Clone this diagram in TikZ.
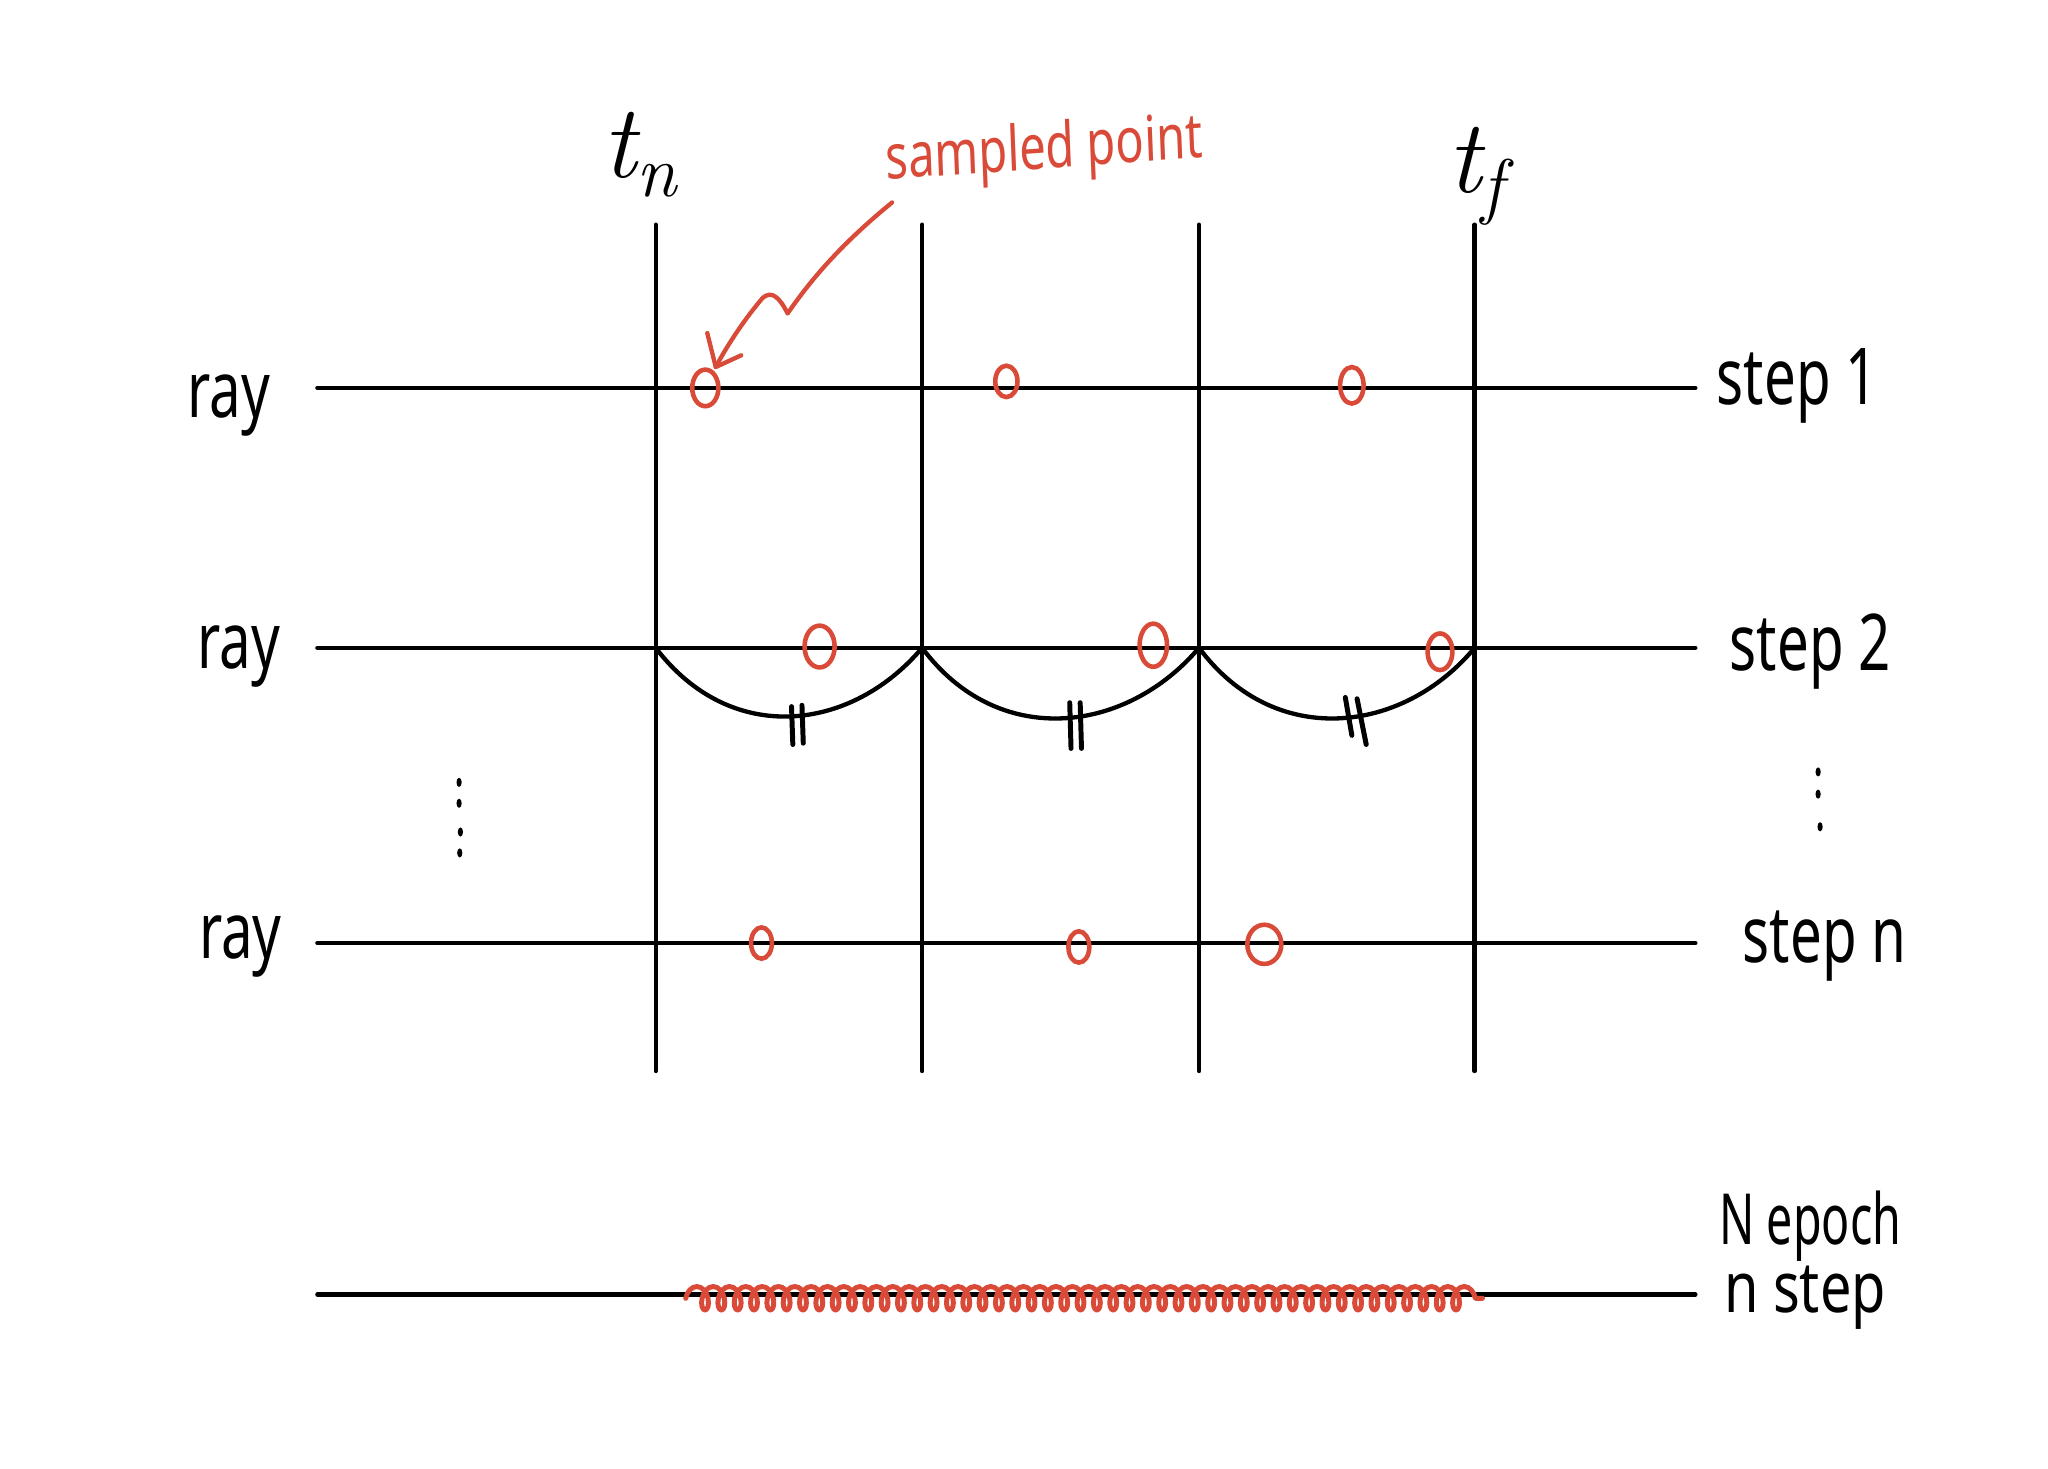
\documentclass[tikz,border=0pt]{standalone}
\usepackage{fontspec}
\setmainfont{Noto Sans}
\newfontfamily\lmr{Latin Modern Roman}
\usetikzlibrary{shapes.geometric,decorations.pathmorphing}
\definecolor{pen}{RGB}{217,74,56}
\newcommand{\tsub}[2]{{\lmr\itshape #1\raisebox{-0.18em}{\fontsize{56}{64}\selectfont #2}}}
\begin{document}
\begin{tikzpicture}[x=1pt,y=-1pt,
  ln/.style={line width=3.3pt, line cap=round},
  tick/.style={line width=3.8pt, line cap=round},
  hand/.style={font=\fontsize{60}{72}\selectfont, xscale=0.72, inner sep=0pt, anchor=base},
  small/.style={font=\fontsize{54}{64}\selectfont, xscale=0.66, inner sep=0pt, anchor=base},
  redtxt/.style={font=\fontsize{48}{58}\selectfont, xscale=0.75, inner sep=0pt, anchor=base, text=pen, rotate=3},
  tlab/.style={font=\fontsize{80}{96}\selectfont, inner sep=0pt, anchor=base},
  pt/.style={draw=pen, line width=3.5pt, ellipse, inner sep=0pt},
  dot/.style={fill=black, ellipse, inner sep=0pt, minimum width=4pt, minimum height=7pt},
  redline/.style={draw=pen, line width=3.3pt, line cap=round, line join=round}
]
\fill[white] (0,0) rectangle (1568,1124);
\useasboundingbox (0,0) rectangle (1568,1124);

% coordinates
\foreach \n/\y in {r1/297, r2/496, r3/722, r4/991}{
  \coordinate (\n L) at (243,\y);
  \coordinate (\n R) at (1298,\y);
}
\foreach \n/\x in {v1/502, v2/706, v3/918, v4/1129}{
  \coordinate (\n T) at (\x,172);
  \coordinate (\n B) at (\x,820);
}

% grid lines
\foreach \n in {r1,r2,r3,r4} \draw[ln] (\n L) -- (\n R);
\foreach \n in {v1,v2,v3,v4} \draw[ln] (\n T) -- (\n B);

% arcs under row 2
\coordinate (a1) at (502,496);
\coordinate (a2) at (706,496);
\coordinate (a3) at (918,496);
\coordinate (a4) at (1129,496);
\draw[ln] (a1) .. controls (560,572) and (652,560) .. (a2);
\draw[ln] (a2) .. controls (764,574) and (862,562) .. (a3);
\draw[ln] (a3) .. controls (976,574) and (1074,562) .. (a4);

% equal-length ticks
\draw[tick] (606,541) -- (607,570);
\draw[tick] (614,540) -- (615,569);
\draw[tick] (819,538) -- (820,573);
\draw[tick] (827,538) -- (828,573);
\draw[tick] (1030,534) -- (1035,563);
\draw[tick] (1039,535) -- (1046,570);

% labels
\node[hand] (ray1) at (175,320) {ray};
\node[hand] (ray2) at (183,512) {ray};
\node[hand] (ray3) at (184,734) {ray};
\node[hand] (s1) at (1376,310) {step 1};
\node[hand] (s2) at (1386,513) {step 2};
\node[hand] (s3) at (1397,737) {step n};
\node[small] (ne) at (1386,953) {N epoch};
\node[small, xscale=1.2] (ns) at (1382,1005) {n step};
\node[tlab] (tn) at (490,136) {\tsub{t}{n}};
\node[tlab] (tf) at (1130,147) {\tsub{t}{f}};
\node[redtxt] (sp) at (800,129) {sampled point};

% vertical dots
\node[dot] (d1) at (351.5,599) {};
\node[dot] (d2) at (351.5,615) {};
\node[dot] (d3) at (352.5,637) {};
\node[dot] (d4) at (352,653) {};
\node[dot] (e1) at (1392,591) {};
\node[dot] (e2) at (1392,608) {};
\node[dot] (e3) at (1393.5,633) {};

% sampled points
\node[pt, minimum width=20pt, minimum height=28pt] (c11) at (540,297) {};
\node[pt, minimum width=17pt, minimum height=24pt] (c12) at (770.5,292) {};
\node[pt, minimum width=18pt, minimum height=28pt] (c13) at (1035,295) {};
\node[pt, minimum width=23pt, minimum height=32pt] (c21) at (627.5,495) {};
\node[pt, minimum width=21pt, minimum height=33pt] (c22) at (883,494) {};
\node[pt, minimum width=19pt, minimum height=28pt] (c23) at (1102.5,499) {};
\node[pt, minimum width=16pt, minimum height=24pt] (c31) at (583,722) {};
\node[pt, minimum width=16pt, minimum height=24pt] (c32) at (826,725) {};
\node[pt, minimum width=26pt, minimum height=30pt] (c33) at (968,723) {};

% pointer arrow
\coordinate (as) at (683,155);
\coordinate (at) at (548,281);
\draw[redline] (as) .. controls (650,182) and (625,208) .. (603,240)
  .. controls (597,228) and (591,222) .. (584,228)
  .. controls (572,242) and (558,262) .. (at);
\draw[redline] (541.5,255) -- (at) -- (567.5,272);

% many samples on the bottom ray
\coordinate (ws) at (525,994);
\coordinate (we) at (1135,994);
\draw[redline, line width=3.8pt, decorate,
  decoration={coil, segment length=12.5pt, amplitude=9pt, aspect=0.6}] (ws) -- (we);
\end{tikzpicture}
\end{document}
